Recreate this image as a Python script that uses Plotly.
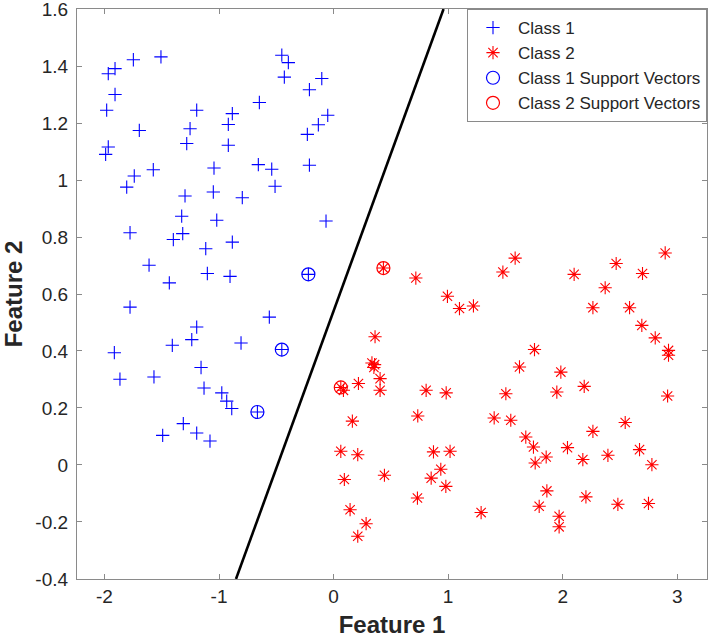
import plotly.graph_objects as go

# ---------------- data ----------------
class1_x = [-1.908, -1.967, -1.748, -1.507, -1.908, -1.981, -1.696, -1.967, -1.990, -1.806,
            -1.740, -1.574, -1.777, -1.611, -1.434, -1.195, -1.253, -1.282, -1.297, -1.326,
            -1.317, -1.399, -1.044, -1.050, -1.020, -1.116, -1.102, -0.884, -0.919, -0.919,
            -0.884, -0.904, -0.797, -0.648, -0.657, -0.540, -0.511, -0.452, -0.395, -0.430,
            -0.211, -0.103, -0.229, -0.133, -0.051, -0.211, -0.066,
            -1.777, -1.914, -1.865, -1.568, -1.408, -1.238, -1.195, -1.157, -1.131, -0.976,
            -0.933, -0.889, -0.808, -0.561, -1.492, -1.312, -1.195, -1.079,
            -0.220, -0.452, -0.665]
class1_y = [1.391, 1.373, 1.422, 1.432, 1.300, 1.245, 1.174, 1.116, 1.090, 0.975,
            1.014, 1.036, 0.815, 0.701, 0.639, 1.245, 1.180, 1.128, 0.944, 0.873,
            0.812, 0.791, 1.042, 0.958, 0.859, 0.759, 0.672, 1.233, 1.195, 1.122,
            0.782, 0.662, 0.938, 1.272, 1.054, 1.038, 0.978, 1.438, 1.412, 1.361,
            1.317, 1.356, 1.160, 1.194, 1.227, 1.052, 0.856,
            0.554, 0.394, 0.301, 0.309, 0.420, 0.440, 0.484, 0.342, 0.270, 0.253,
            0.224, 0.198, 0.428, 0.519, 0.104, 0.145, 0.112, 0.084,
            0.669, 0.405, 0.186]

class2_x = [0.435, 0.718, 1.478, 1.585, 2.100, 2.467, 2.697, 2.895, 2.371, 0.994,
            1.099, 1.221, 2.264, 2.584, 2.691, 2.808, 2.924, 2.924, 0.362, 0.335,
            0.358, 0.352, 0.406, 0.406, 0.217, 0.063, 0.086, 0.808, 0.983, 1.504,
            1.623, 1.754, 1.984, 1.949, 2.188, 2.916, 0.164, 0.735, 1.402, 1.547,
            1.678, 1.745, 1.760, 1.856, 2.042, 2.176, 2.264, 2.395, 2.546, 2.671,
            2.779, 0.063, 0.211, 0.872, 1.017, 0.094, 0.444, 0.852, 0.936, 0.980,
            0.732, 0.144, 0.284, 0.211, 1.288, 1.795, 1.862, 1.969, 1.969, 2.203,
            2.482, 2.749]
class2_y = [0.691, 0.656, 0.677, 0.726, 0.669, 0.707, 0.672, 0.744, 0.622, 0.592,
            0.549, 0.558, 0.552, 0.552, 0.490, 0.446, 0.402, 0.385, 0.450, 0.358,
            0.352, 0.342, 0.303, 0.262, 0.286, 0.272, 0.262, 0.262, 0.253, 0.250,
            0.344, 0.405, 0.326, 0.256, 0.276, 0.242, 0.154, 0.172, 0.165, 0.157,
            0.098, 0.063, 0.007, 0.028, 0.061, 0.019, 0.118, 0.034, 0.149, 0.054,
            0.001, 0.048, 0.036, 0.046, 0.048, -0.051, -0.036, -0.046, -0.015, -0.075,
            -0.116, -0.157, -0.206, -0.250, -0.167, -0.145, -0.091, -0.180, -0.217, -0.112,
            -0.138, -0.135]

sv1_x = [-0.220, -0.452, -0.665]
sv1_y = [0.669, 0.405, 0.186]
sv2_x = [0.435, 0.063]
sv2_y = [0.691, 0.272]

boundary_x = [-0.852, 0.960]
boundary_y = [-0.4, 1.6]

xtick_vals = [-2, -1, 0, 1, 2, 3]
xtick_text = ["-2", "-1", "0", "1", "2", "3"]
ytick_vals = [-0.4, -0.2, 0, 0.2, 0.4, 0.6, 0.8, 1.0, 1.2, 1.4, 1.6]
ytick_text = ["-0.4", "-0.2", "0", "0.2", "0.4", "0.6", "0.8", "1", "1.2", "1.4", "1.6"]

# ---------------- figure ----------------
FONT = "Liberation Sans, Arial, Helvetica, sans-serif"
AXIS_GRAY = "#8a8a8a"
TEXT = "#262626"

fig = go.Figure()
fig.add_trace(go.Scatter(
    x=class1_x, y=class1_y, mode="markers", name="Class 1",
    marker=dict(symbol="cross-thin", size=9.5, color="#0000ff",
                line=dict(color="#0000ff", width=1.1))))
fig.add_trace(go.Scatter(
    x=class2_x, y=class2_y, mode="markers", name="Class 2",
    marker=dict(symbol="asterisk-open", size=11, color="#ff0000",
                line=dict(color="#ff0000", width=1.1))))
fig.add_trace(go.Scatter(
    x=sv1_x, y=sv1_y, mode="markers", name="Class 1 Support Vectors",
    marker=dict(symbol="circle-open", size=13, color="#0000ff",
                line=dict(color="#0000ff", width=1.2))))
fig.add_trace(go.Scatter(
    x=sv2_x, y=sv2_y, mode="markers", name="Class 2 Support Vectors",
    marker=dict(symbol="circle-open", size=13, color="#ff0000",
                line=dict(color="#ff0000", width=1.2))))
fig.add_trace(go.Scatter(
    x=boundary_x, y=boundary_y, mode="lines", showlegend=False,
    line=dict(color="black", width=2.6)))

axis_common = dict(
    showline=True, linecolor=AXIS_GRAY, linewidth=1.2, mirror="ticks",
    ticks="inside", ticklen=5, tickcolor=AXIS_GRAY, tickwidth=1,
    showgrid=False, zeroline=False, automargin=False,
    ticklabeloverflow="allow",
    tickfont=dict(family=FONT, size=19, color=TEXT),
)

fig.update_layout(
    width=709, height=638,
    margin=dict(l=77, r=2, t=9, b=59),
    paper_bgcolor="white", plot_bgcolor="white",
    font=dict(family=FONT, color=TEXT),
    xaxis=dict(range=[-2.24, 3.26], tickvals=xtick_vals, ticktext=xtick_text,
               ticklabelstandoff=0,
               title=dict(text="<b>Feature 1</b>", standoff=19,
                          font=dict(family=FONT, size=24, color=TEXT)),
               **axis_common),
    yaxis=dict(range=[-0.4001, 1.6001], tickvals=ytick_vals, ticktext=ytick_text,
               ticklabelstandoff=4,
               title=dict(text="<b>Feature 2</b>", standoff=16,
                          font=dict(family=FONT, size=24, color=TEXT)),
               **axis_common),
    legend=dict(x=1, y=1, xanchor="right", yanchor="top",
                bgcolor="white", bordercolor=AXIS_GRAY, borderwidth=1,
                font=dict(family=FONT, size=17, color=TEXT),
                itemwidth=40, tracegroupgap=0),
)

# remove the default 8px page margin so the figure sits at the window's corner
fig.write_html("out.html", config={"displayModeBar": False},
               post_script="document.body.style.margin='0px';")
